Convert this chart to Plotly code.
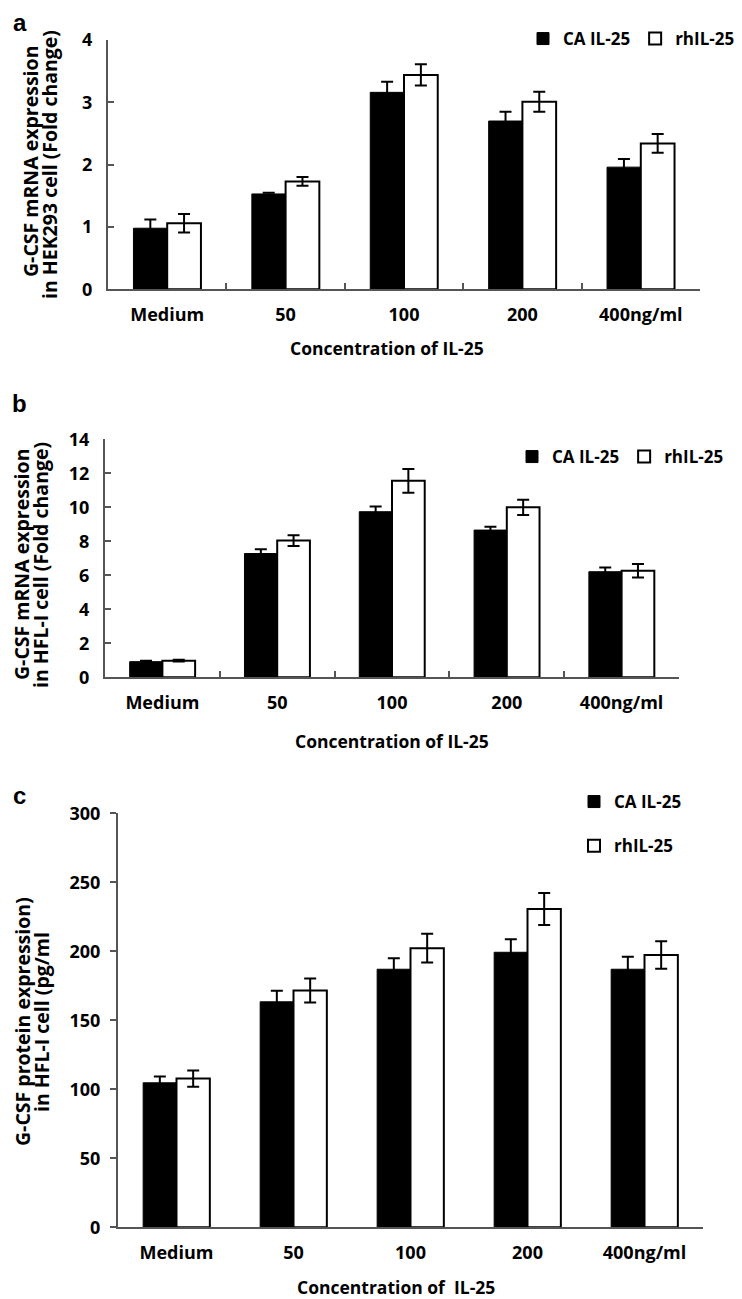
import plotly.graph_objects as go

# page body keeps its default 8px margin, so the figure is drawn 8px in
# from the top-left corner of the 742x1299 window
OFF = 8
W, H = 742 - OFF, 1299 - OFF

categories = ["Medium", "50", "100", "200", "400ng/ml"]

# panel a - HEK293 mRNA fold change
a_ca = [0.98, 1.53, 3.16, 2.70, 1.96]
a_ca_err = [0.14, 0.02, 0.17, 0.15, 0.13]
a_rh = [1.06, 1.73, 3.44, 3.01, 2.34]
a_rh_err = [0.15, 0.07, 0.17, 0.16, 0.15]

# panel b - HFL-I mRNA fold change
b_ca = [0.92, 7.28, 9.74, 8.66, 6.21]
b_ca_err = [0.05, 0.25, 0.30, 0.20, 0.25]
b_rh = [0.98, 8.04, 11.56, 10.0, 6.27]
b_rh_err = [0.05, 0.32, 0.70, 0.45, 0.40]

# panel c - HFL-I protein pg/ml
c_ca = [104.7, 163.4, 187.0, 199.3, 187.0]
c_ca_err = [4.5, 8.0, 8.0, 9.5, 9.0]
c_rh = [107.8, 171.6, 202.3, 230.6, 197.3]
c_rh_err = [5.9, 8.7, 10.5, 11.6, 10.0]

FONT = "Open Sans"
AXIS_COL = "#555555"


def px_x(p):
    return (p - OFF) / W


def px_y(p):
    return 1 - (p - OFF) / H


fig = go.Figure()

panels = [
    ("x", "y", "legend", a_ca, a_ca_err, a_rh, a_rh_err),
    ("x2", "y2", "legend2", b_ca, b_ca_err, b_rh, b_rh_err),
    ("x3", "y3", "legend3", c_ca, c_ca_err, c_rh, c_rh_err),
]

for xa, ya, lg, ca, ca_err, rh, rh_err in panels:
    fig.add_trace(go.Bar(
        x=categories, y=ca, name="<b>CA IL-25</b>", xaxis=xa, yaxis=ya,
        legend=lg, legendgroup=lg + "ca",
        marker={"color": "black", "line": {"color": "black", "width": 1}},
        error_y={"type": "data", "array": ca_err, "color": "black",
                 "thickness": 2, "width": 6},
    ))
    fig.add_trace(go.Bar(
        x=categories, y=rh, name="<b>rhIL-25</b>", xaxis=xa, yaxis=ya,
        legend=lg, legendgroup=lg + "rh",
        marker={"color": "white", "line": {"color": "black", "width": 2}},
        error_y={"type": "data", "array": rh_err, "color": "black",
                 "thickness": 2, "width": 6},
    ))

tick_font = {"family": FONT, "size": 18, "color": "black", "weight": "bold"}


def x_axis(left, right, anchor, inside_ticks):
    d = {
        "domain": [px_x(left), px_x(right)],
        "anchor": anchor,
        "showline": True, "linecolor": AXIS_COL, "linewidth": 2,
        "tickfont": tick_font,
        "ticklabelstandoff": 8,
        "range": [-0.5, 4.5],
    }
    if inside_ticks:
        d.update(ticks="inside", tickson="boundaries", ticklen=6,
                 tickcolor=AXIS_COL, tickwidth=2)
    else:
        d.update(ticks="")
    return d


def y_axis(top, bottom, anchor, rng, dtick, ticks):
    return {
        "domain": [px_y(bottom), px_y(top)],
        "anchor": anchor,
        "range": rng, "dtick": dtick,
        "showline": True, "linecolor": AXIS_COL, "linewidth": 2,
        "showgrid": False, "zeroline": False,
        "ticks": ticks, "ticklen": 6, "tickcolor": AXIS_COL, "tickwidth": 2,
        "tickfont": tick_font,
        "ticklabelstandoff": 10 if ticks == "inside" else 6,
    }


leg_font = {"family": FONT, "size": 17, "color": "black"}

fig.update_layout(
    width=W, height=H,
    margin={"l": 0, "r": 0, "t": 0, "b": 0, "autoexpand": False},
    paper_bgcolor="white", plot_bgcolor="white",
    barmode="group", bargap=0.43, bargroupgap=0,
    xaxis=x_axis(108, 700, "y", True),
    yaxis=y_axis(40, 289.3, "x", [0, 4], 1, "inside"),
    xaxis2=x_axis(105, 679, "y2", True),
    yaxis2=y_axis(439.3, 677.3, "x2", [0, 14], 2, "inside"),
    xaxis3=x_axis(118, 703, "y3", False),
    yaxis3=y_axis(813.3, 1227.3, "x3", [0, 300], 50, "outside"),
    legend={"orientation": "h", "x": px_x(740), "xanchor": "right",
            "y": px_y(21), "yanchor": "top", "font": leg_font,
            "itemwidth": 30, "bgcolor": "rgba(0,0,0,0)"},
    legend2={"orientation": "h", "x": px_x(729), "xanchor": "right",
             "y": px_y(439), "yanchor": "top", "font": leg_font,
             "itemwidth": 30, "bgcolor": "rgba(0,0,0,0)"},
    legend3={"orientation": "v", "x": px_x(574), "xanchor": "left",
             "y": px_y(784), "yanchor": "top", "font": leg_font,
             "itemwidth": 30, "traceorder": "grouped", "tracegroupgap": 19,
             "bgcolor": "rgba(0,0,0,0)"},
)

title_font = {"family": FONT, "size": 17.5, "color": "black"}
ytitle_font = {"family": FONT, "size": 19.5, "color": "black"}
label_font = {"family": "Liberation Sans", "size": 24, "color": "black"}

# panel letter "a" sits right at the top edge, anchor its box to the top
fig.add_annotation(
    text="<b>a</b>", x=px_x(20), y=1, xref="paper", yref="paper",
    showarrow=False, font=label_font, borderpad=0,
    xanchor="center", yanchor="top",
)

annos = [
    # panel letters
    ("b", 20, 404, 0, label_font),
    ("c", 20, 795, 0, label_font),
    # x titles
    ("Concentration of IL-25", 387, 348, 0, title_font),
    ("Concentration of IL-25", 392, 741, 0, title_font),
    ("Concentration of  IL-25", 396, 1287, 0, title_font),
    # y titles
    ("G-CSF mRNA expression", 31, 162, -90, ytitle_font),
    ("in HEK293 cell (Fold change)", 50, 165, -90, ytitle_font),
    ("G-CSF mRNA expression", 21, 565, -90, ytitle_font),
    ("in HFL-I cell (Fold change)", 40, 565, -90, ytitle_font),
    ("G-CSF protein expression)", 22, 1022, -90, ytitle_font),
    ("in HFL-I cell (pg/ml", 41, 1022, -90, ytitle_font),
]

for text, x, y, ang, font in annos:
    fig.add_annotation(
        text="<b>" + text + "</b>", x=px_x(x), y=px_y(y),
        xref="paper", yref="paper",
        showarrow=False, textangle=ang, font=font,
        xanchor="center", yanchor="middle",
    )

fig.write_html("out.html")
